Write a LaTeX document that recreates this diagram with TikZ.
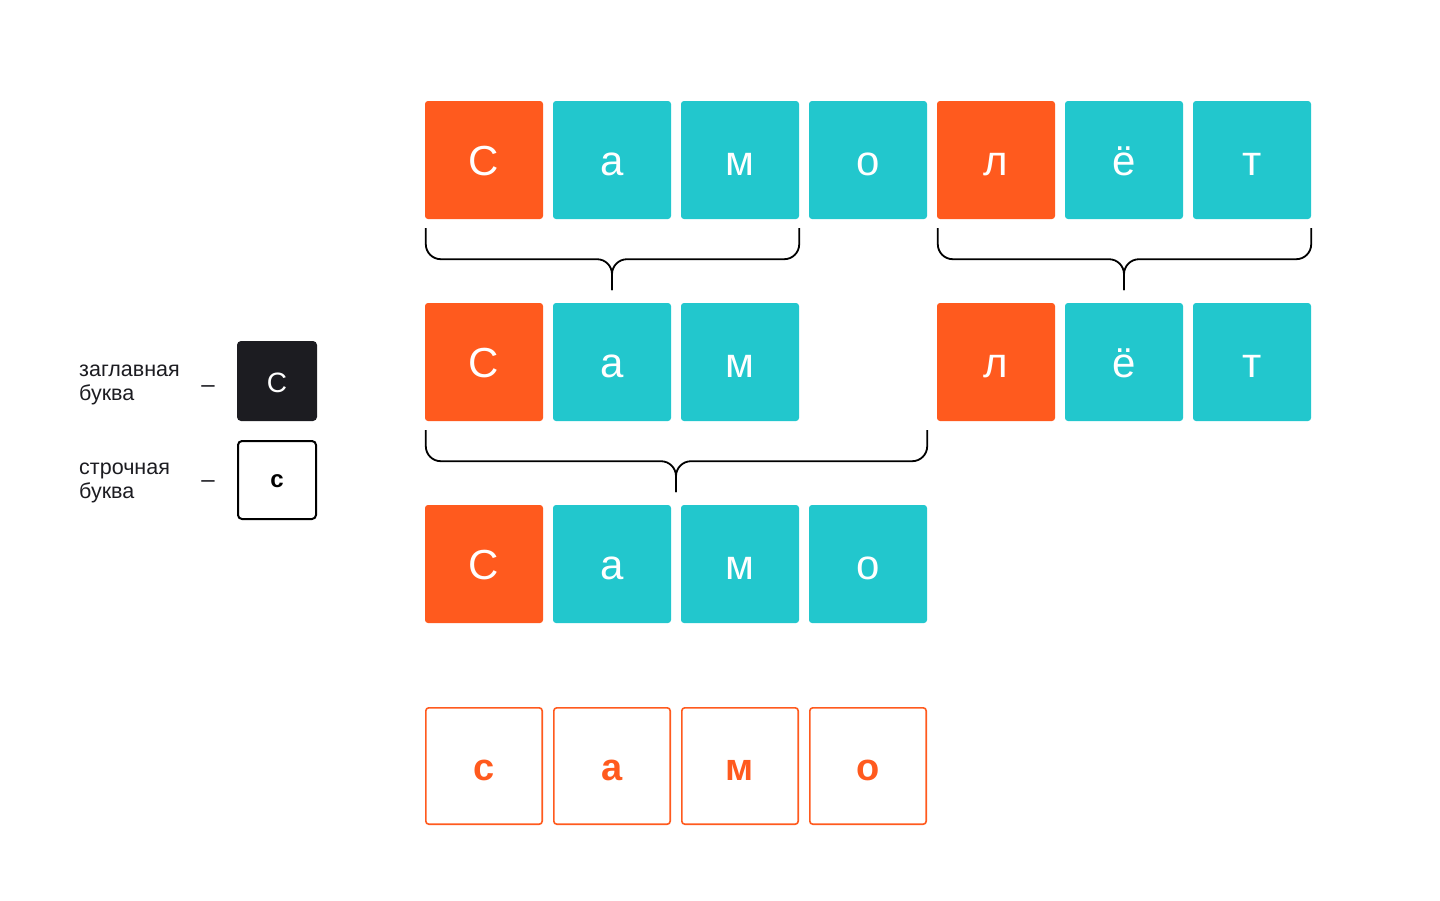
\documentclass[tikz,border=0pt]{standalone}
\usepackage{fontspec}
\setmainfont{Liberation Sans}
\usetikzlibrary{calc}
\definecolor{tileorange}{HTML}{FF5A1E}
\definecolor{tileteal}{HTML}{22C7CD}
\definecolor{tiledark}{HTML}{1C1C21}
\begin{document}
\begin{tikzpicture}[x=1pt, y=-1pt,
	tile/.style={rectangle, rounded corners=3pt, minimum size=118pt, inner sep=0pt, text=white,
		font=\fontsize{42}{50}\selectfont, text height=30pt, text depth=0pt},
	captile/.style={tile, fill=tileorange},
	lowtile/.style={tile, fill=tileteal},
	outtile/.style={tile, minimum size=116.4pt, draw=tileorange, line width=1.6pt, text=tileorange,
		font=\bfseries\fontsize{38}{46}\selectfont, text height=28pt},
	legendtext/.style={anchor=base west, align=left, inner sep=0pt, text=tiledark, font=\fontsize{21.5}{24}\selectfont},
	legenddash/.style={anchor=base, text=tiledark, font=\fontsize{24}{28}\selectfont},
	brace/.style={draw=black, line width=1.8pt, rounded corners=15pt}]
	\useasboundingbox (0,0) rectangle (1440,900);

	% legend
	\node (N1) at (79,400)	[legendtext]	{заглавная\\буква};
	\node (N2) at (79,498)	[legendtext]	{строчная\\буква};
	\node (D1) at (208,392)	[legenddash]	{–};
	\node (D2) at (208,487)	[legenddash]	{–};
	\node (K1) at (277,381)	[rectangle, rounded corners=4pt, minimum size=80pt, inner sep=0pt, fill=tiledark, text=white,
		font=\fontsize{28}{32}\selectfont, text height=22pt, text depth=0pt]	{С};
	\node (K2) at (277,480)	[rectangle, rounded corners=4pt, minimum size=78pt, inner sep=0pt, draw=black, line width=2pt,
		font=\bfseries\fontsize{24}{28}\selectfont, text height=15pt, text depth=0pt]	{с};

	% row 1
	\node (T1) at ( 484,160)	[captile]	{С};
	\node (T2) at ( 612,160)	[lowtile]	{а};
	\node (T3) at ( 740,160)	[lowtile]	{м};
	\node (T4) at ( 868,160)	[lowtile]	{о};
	\node (T5) at ( 996,160)	[captile]	{л};
	\node (T6) at (1124,160)	[lowtile]	{ё};
	\node (T7) at (1252,160)	[lowtile]	{т};

	% row 2
	\node (M1) at ( 484,362)	[captile]	{С};
	\node (M2) at ( 612,362)	[lowtile]	{а};
	\node (M3) at ( 740,362)	[lowtile]	{м};
	\node (M5) at ( 996,362)	[captile]	{л};
	\node (M6) at (1124,362)	[lowtile]	{ё};
	\node (M7) at (1252,362)	[lowtile]	{т};

	% row 3
	\node (B1) at ( 484,564)	[captile]	{С};
	\node (B2) at ( 612,564)	[lowtile]	{а};
	\node (B3) at ( 740,564)	[lowtile]	{м};
	\node (B4) at ( 868,564)	[lowtile]	{о};

	% row 4
	\node (O1) at ( 484,766)	[outtile]	{с};
	\node (O2) at ( 612,766)	[outtile]	{а};
	\node (O3) at ( 740,766)	[outtile]	{м};
	\node (O4) at ( 868,766)	[outtile]	{о};

	% braces
	\coordinate (J1) at ($(T1.south west)!.5!(T3.south east)+(0,71)$);
	\coordinate (J2) at ($(T5.south west)!.5!(T7.south east)+(0,71)$);
	\coordinate (E3) at (B4.north east |- M1.south);
	\coordinate (J3) at ($(M1.south west)!.5!(E3)+(0,71)$);
	\draw[brace] ($(T1.south west)+(1,9)$) |- ($(J1)+(0,-31)$) -- (J1);
	\draw[brace] ($(T3.south east)+(0,9)$) |- ($(J1)+(0,-31)$) -- (J1);
	\draw[brace] ($(T5.south west)+(1,9)$) |- ($(J2)+(0,-31)$) -- (J2);
	\draw[brace] ($(T7.south east)+(0,9)$) |- ($(J2)+(0,-31)$) -- (J2);
	\draw[brace] ($(M1.south west)+(1,9)$) |- ($(J3)+(0,-31)$) -- (J3);
	\draw[brace] ($(E3)+(0,9)$) |- ($(J3)+(0,-31)$) -- (J3);
\end{tikzpicture}
\end{document}
